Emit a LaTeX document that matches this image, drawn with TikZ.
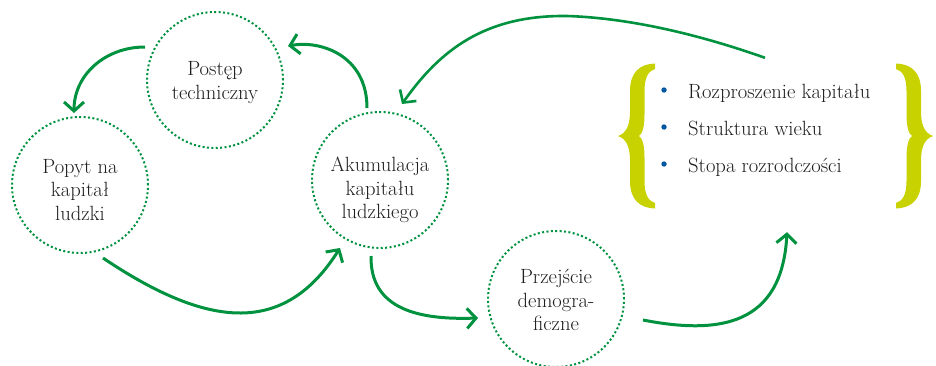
\documentclass[tikz,border=0pt]{standalone}
\usetikzlibrary{arrows.meta}
\definecolor{cgreen}{RGB}{0,146,63}
\definecolor{cbrace}{RGB}{200,210,0}
\definecolor{cblue}{RGB}{0,86,160}
\definecolor{ctext}{RGB}{30,30,30}
\begin{document}
\begin{tikzpicture}[x=1pt,y=-1pt,
  ring/.style={circle,draw=cgreen,line width=2pt,dash pattern=on 2pt off 2.4pt,
    minimum size=136pt,inner sep=0pt,outer sep=0pt},
  ctxt/.style={align=center,text=ctext,font=\fontsize{20.6}{23.5}\selectfont,inner sep=0pt},
  itemtxt/.style={anchor=base west,text=ctext,font=\fontsize{20.6}{26}\selectfont,inner sep=0pt},
  flow/.style={draw=cgreen,line width=3pt,-{Straight Barb[length=9pt,width=20pt]}},
  halfbrace/.pic={\fill[cbrace] (0,0) .. controls (9,-3) and (12,-12) .. (12,-25)
      -- (12,-45) .. controls (12,-64) and (22,-72) .. (37,-72.5)
      -- (37,-67) .. controls (30,-65) and (26.5,-58) .. (26.5,-45)
      -- (26.5,-22) .. controls (26.5,-8) and (24,-2) .. (21,0) -- cycle;}
]
\useasboundingbox (0,0) rectangle (936,365);

% circles
\node[ring] (P) at (215,80) {};
\node[ring] (D) at (80,185) {};
\node[ring] (A) at (380,180) {};
\node[ring] (T) at (556,299) {};

% texts
\node[ctxt] (Pt) at (215,82.5) {Postęp\\techniczny};
\node[ctxt] (Dt) at (80,190) {Popyt na\\kapitał\\ludzki};
\node[ctxt] (At) at (380,190) {Akumulacja\\kapitału\\ludzkiego};
\node[ctxt] (Tt) at (556,300) {Przejście\\demogra-\\ficzne};

% factors group
\node[minimum width=315,minimum height=144,inner sep=0pt] (factors) at (775.5,136) {};
\pic at (618,136) {halfbrace};
\pic[yscale=-1] at (618,136) {halfbrace};
\pic[xscale=-1] at (933,136) {halfbrace};
\pic[xscale=-1,yscale=-1] at (933,136) {halfbrace};

\fill[cblue] (664,90) circle (2.7);
\fill[cblue] (664,127) circle (2.7);
\fill[cblue] (664,164) circle (2.7);
\node[itemtxt] (r1) at (688,98) {Rozproszenie kapitału};
\node[itemtxt] (r2) at (688,135) {Struktura wieku};
\node[itemtxt] (r3) at (688,172) {Stopa rozrodczości};

% connector end points
\coordinate (a1s) at ([shift={(-70,-33)}]P.center);
\coordinate (a1e) at ([shift={(-6,-72)}]D.center);
\coordinate (a2s) at ([shift={(-13,-72)}]A.center);
\coordinate (a2e) at ([shift={(73,-34)}]P.center);
\coordinate (a3s) at ([shift={(23,73)}]D.center);
\coordinate (a3e) at ([shift={(-40,68)}]A.center);
\coordinate (a4s) at ([shift={(-9,76)}]A.center);
\coordinate (a4e) at ([shift={(-78,19)}]T.center);
\coordinate (a5s) at ([shift={(87,21)}]T.center);
\coordinate (a5e) at ([shift={(11.5,24)}]factors.south);
\coordinate (a6s) at ([shift={(-10.5,-6)}]factors.north);
\coordinate (a6e) at ([shift={(22,-76)}]A.center);
\coordinate (a6m) at (567,16);

% connectors
\draw[flow] (a1s) .. controls +(-40,0) and +(0,-38) .. (a1e);
\draw[flow] (a2s) .. controls +(0,-53) and +(32,-6) .. (a2e);
\draw[flow] (a3s) .. controls +(107,72) and +(-55,87) .. (a3e);
\draw[flow] (a4s) .. controls +(-1,54) and +(-58,2) .. (a4e);
\draw[flow] (a5s) .. controls +(77,15) and +(-5,93) .. (a5e);
\draw[flow,line width=2.6pt] (a6s) .. controls +(-65,-23) and +(63,2) .. (a6m)
   .. controls +(-82,-1) and +(38,-54) .. (a6e);
\end{tikzpicture}
\end{document}
